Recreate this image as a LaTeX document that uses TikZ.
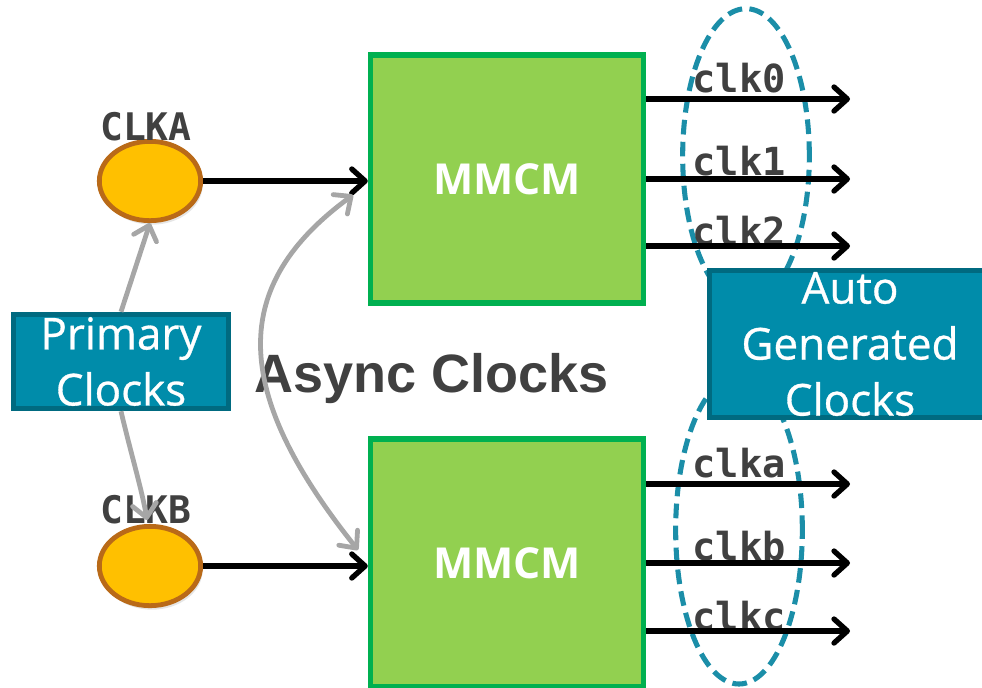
\documentclass[tikz,border=0pt]{standalone}
\usepackage{fontspec}
\setmainfont{Open Sans}
\newfontfamily\boxf[FakeBold=0.7]{Open Sans}
\newfontfamily\arialf{Liberation Sans}
\newfontfamily\monof{DejaVu Sans Mono}
\usetikzlibrary{arrows.meta,shapes.geometric,shadows}
\definecolor{txtgray}{HTML}{404040}
\definecolor{mmfill}{HTML}{92D050}
\definecolor{mmdraw}{HTML}{00B050}
\definecolor{orfill}{HTML}{FFC000}
\definecolor{ordraw}{HTML}{B96A18}
\definecolor{tealfill}{HTML}{008CAA}
\definecolor{tealdraw}{HTML}{006A80}
\definecolor{dashteal}{HTML}{1B8EA8}
\definecolor{arrgray}{HTML}{A6A6A6}
\tikzset{
  barb/.style={-{Straight Barb[length=10pt,width=18pt,line cap=round,line join=round]}},
  dbarb/.style={{Straight Barb[length=10pt,width=18pt,line cap=round,line join=round]}-{Straight Barb[length=10pt,width=18pt,line cap=round,line join=round]}},
  blackarrow/.style={barb,line width=4pt,black},
  grayarrow/.style={line width=3.6pt,arrgray},
  mmcm/.style={draw=mmdraw,fill=mmfill,line width=3.8pt,minimum width=205pt,minimum height=186pt,inner sep=0pt,
    font=\fontsize{32}{38}\selectfont\bfseries,text=white},
  clkell/.style={ellipse,draw=ordraw,fill=orfill,line width=3.6pt,minimum width=76pt,minimum height=59.5pt,inner sep=0pt,
    drop shadow={opacity=0.2,shadow xshift=1.5pt,shadow yshift=-3pt}},
  tealbox/.style={draw=tealdraw,fill=tealfill,line width=3.6pt,inner sep=1pt,align=center,text=white,
    font=\boxf\fontsize{33}{42}\selectfont},
  grpell/.style={ellipse,draw=dashteal,line width=3.8pt,dash pattern=on 11pt off 5.5pt,inner sep=0pt},
  clklbl/.style={anchor=base,text=txtgray,inner sep=0pt,font=\monof\fontsize{29}{30}\selectfont\bfseries},
  biglbl/.style={anchor=base,text=txtgray,inner sep=0pt,font=\monof\fontsize{28.5}{30}\selectfont\bfseries},
}
\begin{document}
\begin{tikzpicture}[x=0.75pt,y=-0.75pt]
\useasboundingbox (0,0) rectangle (982,687);
\clip (0,0) rectangle (982,687);
% dashed group ellipses
\node[grpell,minimum width=95pt,minimum height=221pt] (gtop) at (746,156) {};
\node[grpell,minimum width=95pt,minimum height=231pt] (gbot) at (739,530) {};
% MMCM blocks
\node[mmcm] (m1) at (507,179) {MMCM};
\node[mmcm] (m2) at (507,563) {MMCM};
% clock sources
\node[clkell] (clka) at (150,181) {};
\node[clkell] (clkb) at (150,566) {};
\node[biglbl] (la) at (146,140) {CLKA};
\node[biglbl] (lb) at (146,523) {CLKB};
% output labels
\node[clklbl] (t0) at (739,92) {clk0};
\node[clklbl] (t1) at (739,175) {clk1};
\node[clklbl] (t2) at (739,245) {clk2};
\node[clklbl] (ta) at (739,477) {clka};
\node[clklbl] (tb) at (739,560) {clkb};
\node[clklbl] (tc) at (739,630) {clkc};
% output ends
\coordinate (o0) at (850,99);
\coordinate (o1) at (850,179);
\coordinate (o2) at (850,246);
\coordinate (oa) at (850,484);
\coordinate (ob) at (850,563);
\coordinate (oc) at (850,631);
\foreach \o in {o0,o1,o2} \draw[blackarrow] (\o -| m1.east) -- (\o);
\foreach \o in {oa,ob,oc} \draw[blackarrow] (\o -| m2.east) -- (\o);
% inputs
\draw[blackarrow] (clka.east) -- (clka -| m1.west);
\draw[blackarrow] (clkb.east) -- (clkb -| m2.west);
% boxes
\node[tealbox,minimum width=161pt,minimum height=71pt] (prim) at (121,361.5) {Primary\\Clocks};
\node[tealbox,minimum width=211pt,minimum height=110pt] (auto) at (850,344) {Auto\\Generated\\Clocks};
% async label
\node[anchor=base,text=txtgray,inner sep=0pt,font=\arialf\fontsize{40.5}{44}\selectfont\bfseries] (async) at (432,392) {Async Clocks};
% gray arrows
\coordinate (atop) at (353,195);
\coordinate (abot) at (358,550);
\coordinate (bt) at (147,520);
\draw[grayarrow,barb] (prim.north) -- (clka.south);
\draw[grayarrow,barb] (prim.south) .. controls (130,450) and (142,490) .. (bt);
\draw[grayarrow,dbarb] (atop) .. controls (230,285) and (230,390) .. (abot);
\end{tikzpicture}
\end{document}
